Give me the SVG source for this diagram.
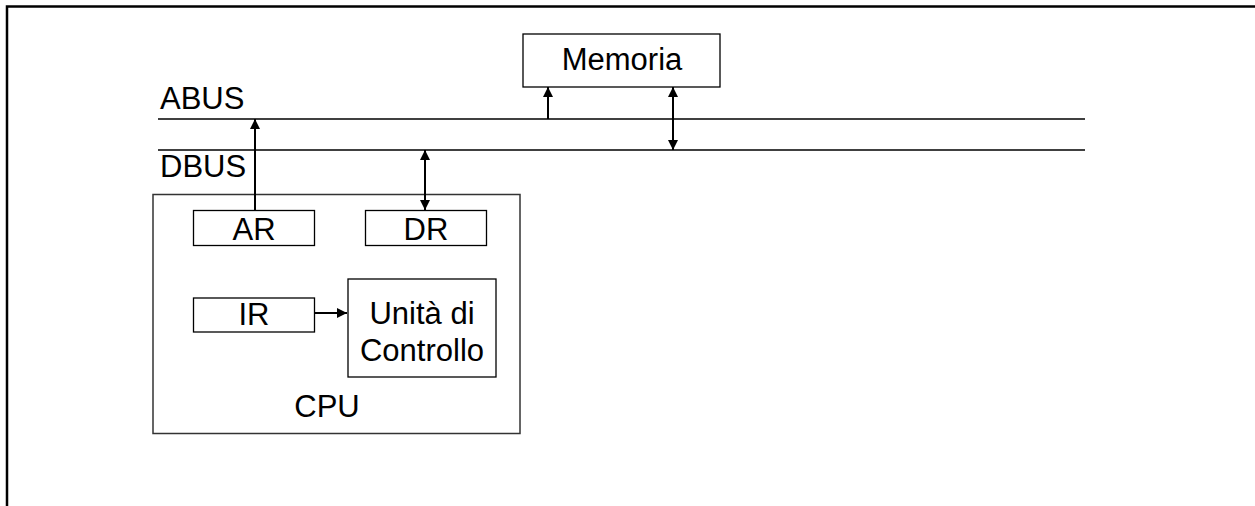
<svg xmlns="http://www.w3.org/2000/svg" width="1255" height="506" viewBox="0 0 1255 506">
<style>
  .box { fill: #ffffff; stroke: #000000; stroke-width: 1.3; }
  .cpu { fill: #ffffff; stroke: #333333; stroke-width: 1.5; }
  .lbl { font-family: "Liberation Sans", Arial, sans-serif; font-size: 31px; fill: #000000; }
  .mid { text-anchor: middle; }
  .bus { stroke: #000000; stroke-width: 1.3; fill: none; }
  .frame { stroke: #000000; stroke-width: 2.5; fill: none; }
  .conn { stroke: #000000; stroke-width: 2; fill: none; }
</style>
<defs>
  <marker id="ah" viewBox="0 0 10 10" refX="10" refY="5" markerWidth="5" markerHeight="5" markerUnits="strokeWidth" orient="auto-start-reverse">
    <path d="M0,0 L10,5 L0,10 Z" fill="#000000"/>
  </marker>
</defs>
<rect width="1255" height="506" fill="#ffffff"/>
<g id="frame">
  <path class="frame" d="M7,506 V6.5 H1255"/>
</g>
<g id="buses">
  <line class="bus" x1="158" y1="119" x2="1085" y2="119"/>
  <line class="bus" x1="158" y1="150" x2="1085" y2="150"/>
  <text class="lbl" x="160" y="109">ABUS</text>
  <text class="lbl" x="160" y="177">DBUS</text>
</g>
<g id="memoria">
  <rect class="box" x="523" y="34" width="197" height="53"/>
  <text class="lbl mid" x="622" y="70">Memoria</text>
</g>
<g id="cpu">
  <rect class="cpu" x="153" y="194.5" width="367" height="239"/>
  <text class="lbl mid" x="327" y="417">CPU</text>
</g>
<g id="ar">
  <rect class="box" x="193.5" y="210.5" width="121" height="35"/>
  <text class="lbl mid" x="254" y="240">AR</text>
</g>
<g id="dr">
  <rect class="box" x="365.5" y="210.5" width="121" height="35"/>
  <text class="lbl mid" x="426" y="240">DR</text>
</g>
<g id="ir">
  <rect class="box" x="193.5" y="298" width="121" height="34"/>
  <text class="lbl mid" x="254" y="325">IR</text>
</g>
<g id="cu">
  <rect class="box" x="348" y="279" width="148" height="98"/>
  <text class="lbl mid" x="422" y="324">Unità di</text>
  <text class="lbl mid" x="422" y="361">Controllo</text>
</g>
<g id="connectors">
  <line class="conn" x1="255" y1="210" x2="255" y2="119" marker-end="url(#ah)"/>
  <line class="conn" x1="425" y1="150" x2="425" y2="210" marker-start="url(#ah)" marker-end="url(#ah)"/>
  <line class="conn" x1="548" y1="119" x2="548" y2="87" marker-end="url(#ah)"/>
  <line class="conn" x1="673" y1="150" x2="673" y2="87" marker-start="url(#ah)" marker-end="url(#ah)"/>
  <line class="conn" x1="315" y1="313" x2="347" y2="313" marker-end="url(#ah)"/>
</g>
</svg>
